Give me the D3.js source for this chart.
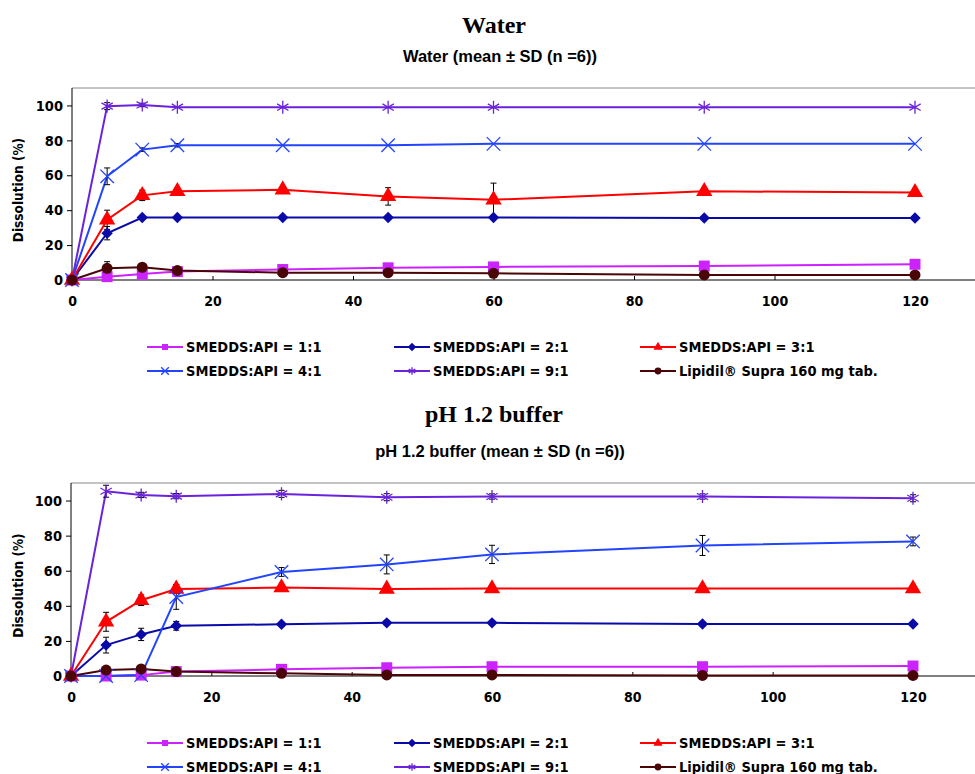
<!DOCTYPE html>
<meta charset="utf-8">
<style>
  body { margin: 0; background: #fff; }
  svg text { fill: #000; }
</style>
<svg width="975" height="774"></svg>
<script src="https://cdn.jsdelivr.net/npm/d3@7"></script>
<script>

var times = [0, 5, 10, 15, 30, 45, 60, 90, 120];
var seriesNames = ["SMEDDS:API = 1:1", "SMEDDS:API = 2:1", "SMEDDS:API = 3:1",
                   "SMEDDS:API = 4:1", "SMEDDS:API = 9:1", "Lipidil\u00ae Supra 160 mg tab."];
var seriesColors = ["#cc22ff", "#0a0aa8", "#ff0000", "#2244ff", "#6a22dd", "#4a0606"];
var seriesShapes = ["square", "diamond", "triangle", "cross", "star", "circle"];
var xTicks = [0, 20, 40, 60, 80, 100, 120];
var yTicks = [0, 20, 40, 60, 80, 100];

// water, mean values per series
var water = [
  [0, 1.9, 3.4, 4.8, 6, 7, 7.5, 8, 9],
  [0, 26.8, 35.8, 35.8, 35.8, 35.8, 35.8, 35.5, 35.5],
  [0, 34.5, 48.5, 50.8, 51.7, 47.9, 46, 50.8, 50.2],
  [0, 59.4, 74.7, 77.2, 77.2, 77.2, 78, 78, 78],
  [0, 99.6, 100.3, 99, 99, 99, 99, 99, 99],
  [0, 6.7, 7.3, 5.4, 4.2, 4.2, 3.8, 2.9, 2.9]
];
var waterSD = [
  [0, 0.5, 0.5, 0.5, 0.5, 0.5, 0.5, 0.5, 0.5],
  [0, 3.8, 0.8, 0.5, 0.5, 0.5, 0.5, 0.5, 0.5],
  [0, 5.5, 3, 1, 1, 5, 9.5, 1, 1],
  [0, 4.8, 1, 1, 0.5, 0.5, 0.5, 0.5, 0.5],
  [0, 2, 1, 0.5, 0.5, 0.5, 0.5, 0.5, 0.5],
  [0, 3.8, 2, 1, 0.5, 0.5, 0.5, 0.5, 0.5]
];

// pH 1.2 buffer
var acid = [
  [0, 0, 0.5, 2.5, 3.8, 4.7, 5.3, 5.3, 5.7],
  [0, 17.6, 23.7, 28.6, 29.5, 30.3, 30.3, 29.6, 29.6],
  [0, 30.9, 43.2, 49.6, 50.4, 49.6, 49.8, 49.8, 49.8],
  [0, 0, 0.5, 45, 59.3, 63.6, 69.3, 74.4, 76.7],
  [0, 105.3, 103.2, 102.5, 103.8, 101.9, 102.3, 102.3, 101.3],
  [0, 3.4, 4, 2.5, 1.5, 0.6, 0.6, 0.3, 0.3]
];
var acidSD = [
  [0, 0.3, 0.3, 0.5, 0.5, 0.5, 0.5, 0.5, 0.5],
  [0, 4.5, 3.5, 2.5, 1, 1, 1, 1, 1],
  [0, 5.4, 3, 2.5, 1, 1, 1, 1, 1],
  [0, 0.3, 0.3, 7, 2.5, 5.4, 5.2, 5.7, 2.5],
  [0, 3.4, 1.5, 1.5, 2, 2, 1.5, 1.5, 2],
  [0, 1, 1, 1, 0.5, 0.5, 0.5, 0.5, 0.5]
];

var svg = d3.select("svg");
var narrow = "'Liberation Sans Narrow', 'DejaVu Sans Condensed', sans-serif";

// squat diamond (rotated square) instead of d3's tall one
var squareDiamond = {
  draw: function(ctx, size) {
    var r = Math.sqrt(size / 2);
    ctx.moveTo(0, -r); ctx.lineTo(r, 0); ctx.lineTo(0, r); ctx.lineTo(-r, 0); ctx.closePath();
  }
};

function symbolFor(shape, size) {
  var types = {
    square: d3.symbolSquare, diamond: squareDiamond, triangle: d3.symbolTriangle,
    circle: d3.symbolCircle, cross: d3.symbolX, star: d3.symbolAsterisk
  };
  return d3.symbol().type(types[shape]).size(size)();
}

function drawMarker(g, i, x, y, size) {
  var filled = ["square", "diamond", "triangle", "circle"].indexOf(seriesShapes[i]) >= 0;
  var p = g.append("path")
    .attr("d", symbolFor(seriesShapes[i], size))
    .attr("transform", "translate(" + x + "," + y + ")");
  if (filled) p.attr("fill", seriesColors[i]).attr("stroke", "none");
  else p.attr("fill", "none").attr("stroke", seriesColors[i]).attr("stroke-width", 1.3);
}

function drawPanel(cfg) {
  var x = d3.scaleLinear().domain([0, 120]).range([cfg.x0, cfg.x120]);
  var y = d3.scaleLinear().domain([0, 110]).range([cfg.yBottom, cfg.yTop]);
  var g = svg.append("g");

  g.append("text").attr("x", 494).attr("y", cfg.titleY).attr("text-anchor", "middle")
    .style("font", "bold 24px 'Liberation Serif', serif").text(cfg.title);
  g.append("text").attr("x", 500).attr("y", cfg.subY).attr("text-anchor", "middle")
    .style("font", "bold 16.5px 'Liberation Sans', Arial, sans-serif").text(cfg.subtitle);

  // top frame line
  g.append("line").attr("x1", cfg.x0).attr("x2", 975)
    .attr("y1", cfg.yTop).attr("y2", cfg.yTop).attr("stroke", "#888").attr("stroke-width", 1);

  var xAxis = g.append("g").attr("transform", "translate(0," + cfg.yBottom + ")")
    .call(d3.axisBottom(x).tickValues(xTicks).tickSize(-4).tickPadding(16));
  xAxis.select(".domain").attr("d", "M" + cfg.x0 + ",0H975");
  xAxis.selectAll("text").style("font", "bold 14px " + narrow);

  var yAxis = g.append("g").attr("transform", "translate(" + cfg.x0 + ",0)")
    .call(d3.axisLeft(y).tickValues(yTicks).tickSize(5).tickPadding(4));
  yAxis.select(".domain").attr("d", "M0," + cfg.yTop + "V" + cfg.yBottom);
  yAxis.selectAll("text").style("font", "bold 14.5px " + narrow);

  g.append("text")
    .attr("transform", "translate(" + 23 + "," + ((cfg.yTop + cfg.yBottom) / 2 + 6) + ") rotate(-90)")
    .attr("text-anchor", "middle")
    .style("font", "bold 13.5px " + narrow)
    .text("Dissolution  (%)");

  var line = d3.line().x(function(d) { return x(d[0]); }).y(function(d) { return y(d[1]); });

  cfg.values.forEach(function(vals, i) {
    var pts = times.map(function(t, k) { return [t, vals[k]]; });
    g.append("path").datum(pts).attr("d", line)
      .attr("fill", "none").attr("stroke", seriesColors[i]).attr("stroke-width", 2);
  });

  // error bars
  cfg.values.forEach(function(vals, i) {
    times.forEach(function(t, k) {
      var sd = cfg.sd[i][k];
      if (!sd || sd < 0.8) return;
      var cx = x(t), top = y(vals[k] + sd), bot = y(vals[k] - sd);
      g.append("path")
        .attr("d", "M" + (cx - 3) + "," + top + "H" + (cx + 3) + "M" + cx + "," + top + "V" + bot +
                   "M" + (cx - 3) + "," + bot + "H" + (cx + 3))
        .attr("stroke", "#000").attr("stroke-width", 1).attr("fill", "none");
    });
  });

  cfg.values.forEach(function(vals, i) {
    var size = { square: 120, diamond: 65, triangle: 115, cross: 120, star: 120, circle: 95 }[seriesShapes[i]];
    times.forEach(function(t, k) { drawMarker(g, i, x(t), y(vals[k]), size); });
  });

  // legend
  var cols = [147, 394, 640];
  seriesNames.forEach(function(name, i) {
    var lx = cols[i % 3], ly = cfg.legendY + Math.floor(i / 3) * 24;
    g.append("line").attr("x1", lx).attr("x2", lx + 36).attr("y1", ly).attr("y2", ly)
      .attr("stroke", seriesColors[i]).attr("stroke-width", 2);
    drawMarker(g, i, lx + 18, ly, seriesShapes[i] == "cross" || seriesShapes[i] == "star" ? 40 : 36);
    g.append("text").attr("x", lx + 39).attr("y", ly + 5)
      .style("font", "bold 14.5px " + narrow).text(name);
  });
}

drawPanel({ title: "Water", subtitle: "Water (mean \u00b1 SD (n =6))", titleY: 33, subY: 62,
  x0: 72, x120: 915, yTop: 88, yBottom: 280, legendY: 347, values: water, sd: waterSD });
drawPanel({ title: "pH 1.2 buffer", subtitle: "pH 1.2 buffer (mean \u00b1 SD (n =6))", titleY: 422, subY: 457,
  x0: 71, x120: 913, yTop: 483, yBottom: 676, legendY: 743, values: acid, sd: acidSD });

</script>
